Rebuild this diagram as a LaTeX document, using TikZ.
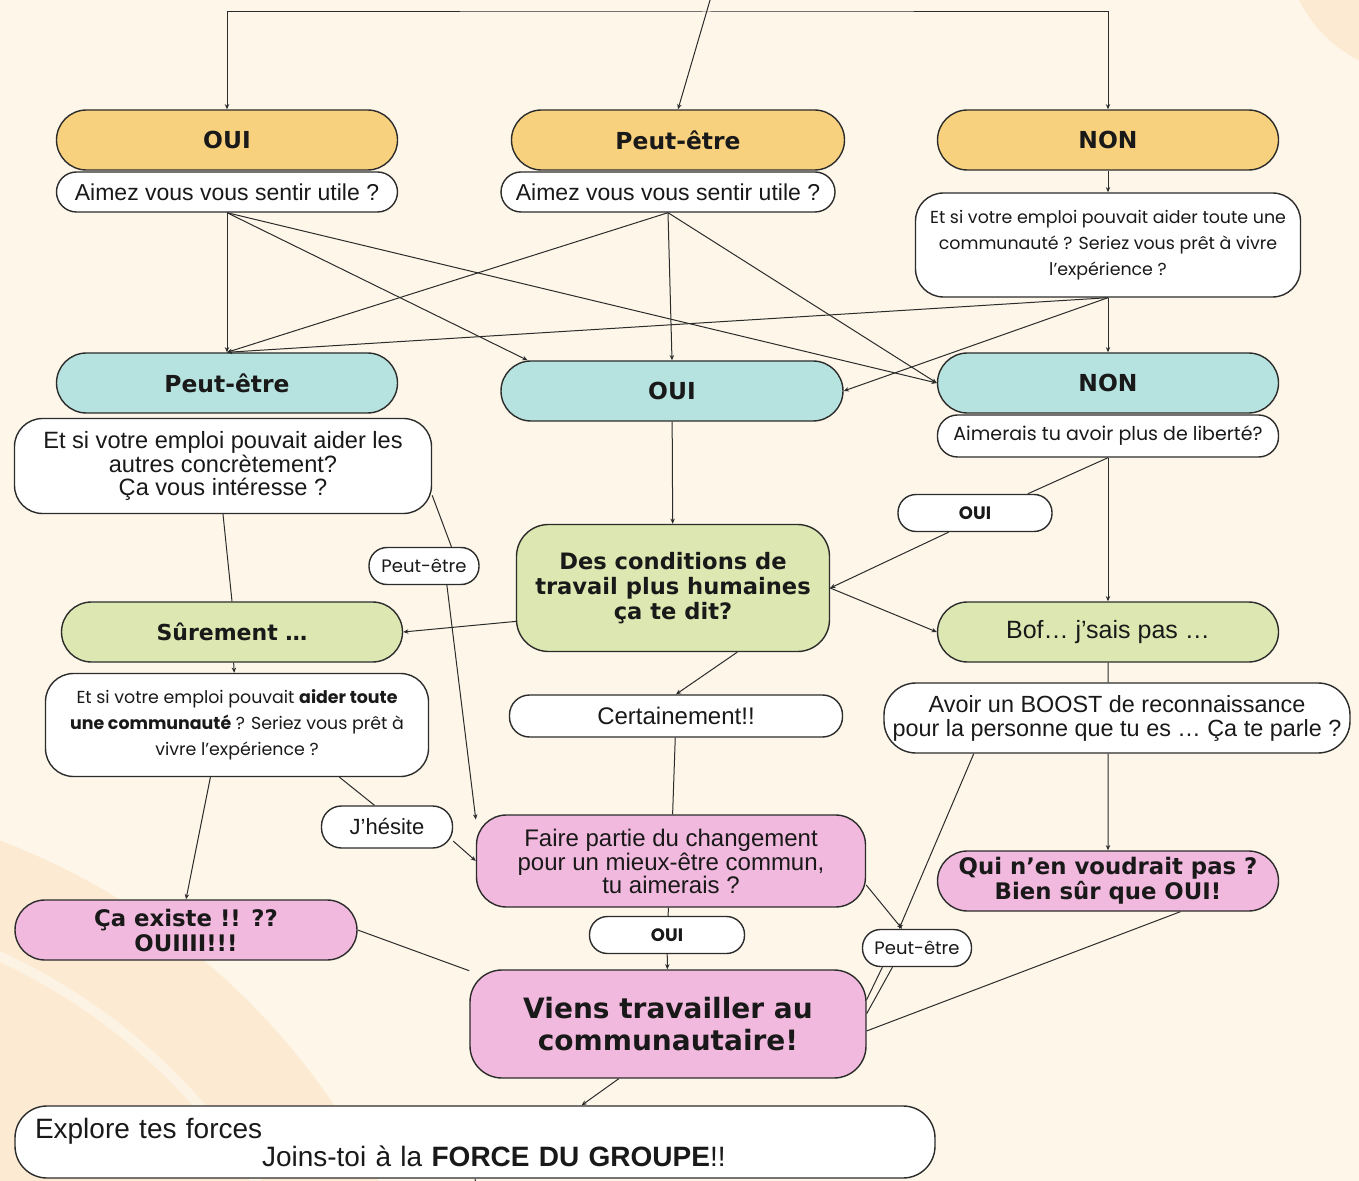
\documentclass[tikz,border=0pt]{standalone}
\usepackage{fontspec}
\setmainfont{Liberation Sans}
\newfontfamily\grasfont{DejaVu Sans}
\newfontfamily\rondfont{Poppins}
\usetikzlibrary{arrows.meta,positioning}

\definecolor{fond}{HTML}{FDF6E9}
\definecolor{peche}{HTML}{FCEBD2}
\definecolor{creme}{HTML}{FDF3E4}
\definecolor{jaune}{HTML}{F8D17F}
\definecolor{turquoise}{HTML}{B6E3DF}
\definecolor{vert}{HTML}{DDE7B1}
\definecolor{rose}{HTML}{F1B9DD}
\definecolor{trait}{HTML}{2C2C2C}

\begin{document}
\begin{tikzpicture}[x=0.5pt, y=-0.5pt, >={Stealth[length=2.6pt,width=2.2pt]},
    box/.style={draw=trait, line width=0.7pt, inner sep=0pt, align=center, text=black!90},
    pill/.style={box, minimum width=170.5pt, minimum height=30pt, rounded corners=15pt},
    head/.style={pill, font=\grasfont\bfseries\fontsize{11.7}{12.5}\selectfont},
    ask/.style={box, fill=white, rounded corners=10pt, font=\fontsize{11.5}{11.5}\selectfont},
    tag/.style={box, fill=white, rounded corners=9pt, minimum height=18.5pt},
    link/.style={draw=trait, line width=0.5pt}]

  % fond
  \fill[fond] (0,0) rectangle (1359,1181);
  \useasboundingbox (0,0) rectangle (1359,1181);
  \fill[peche] (1420,-60) circle[radius=135];
  \fill[peche] (-250,1500) circle[radius=705];
  \draw[creme, line width=5pt] (-250,1500) circle[radius=598];

  % premier niveau
  \node[head, fill=jaune] (oui1) at (227,140) {OUI};
  \node[head, fill=jaune, minimum width=166.5pt] (peut1) at (678,140) {Peut-être};
  \node[head, fill=jaune] (non1) at (1108,140) {NON};
  \node[ask, minimum width=170.5pt, minimum height=20pt] (q1) at (227,192) {Aimez vous vous sentir utile ?};
  \node[ask, minimum width=167pt, minimum height=20pt] (q2) at (668,192) {Aimez vous vous sentir utile ?};
  \node[ask, minimum width=192.5pt, minimum height=52pt, rounded corners=14pt,
        font=\rondfont\fontsize{8.7}{13}\selectfont] (q3) at (1108,245)
        {Et si votre emploi pouvait aider toute une\\communauté ? Seriez vous prêt à vivre\\l’expérience ?};

  % deuxieme niveau
  \node[head, fill=turquoise] (peut2) at (227,383) {Peut-être};
  \node[head, fill=turquoise, minimum width=171pt] (oui2) at (672,391) {OUI};
  \node[head, fill=turquoise] (non2) at (1108,383) {NON};
  \node[ask, minimum width=208.5pt, minimum height=47.5pt, rounded corners=14pt,
        font=\fontsize{11.8}{11.6}\selectfont] (q4) at (223,466)
        {Et si votre emploi pouvait aider les\\autres concrètement?\\Ça vous intéresse ?};
  \node[ask, minimum width=170.5pt, minimum height=21pt,
        font=\rondfont\fontsize{9.5}{9.5}\selectfont] (q5) at (1108,436) {Aimerais tu avoir plus de liberté?};

  % troisieme niveau
  \node[tag, minimum width=77pt, font=\rondfont\bfseries\fontsize{9}{9}\selectfont] (oui3) at (975,513) {OUI};
  \node[box, fill=vert, minimum width=156.5pt, minimum height=63.5pt, rounded corners=16pt,
        font=\grasfont\bfseries\fontsize{11.3}{12.5}\selectfont] (cond) at (673,588)
        {Des conditions de\\travail plus humaines\\ça te dit?};
  \node[tag, minimum width=55pt, font=\rondfont\fontsize{9}{9}\selectfont] (peut3) at (424,566) {Peut-être};
  \node[head, fill=vert, font=\grasfont\bfseries\fontsize{11}{12}\selectfont] (sure) at (232,632) {Sûrement …};
  \node[pill, fill=vert, font=\fontsize{12.5}{12.5}\selectfont] (bof) at (1108,632) {Bof… j’sais pas …};
  \node[ask, minimum width=191.5pt, minimum height=51.5pt, rounded corners=14pt,
        font=\rondfont\fontsize{8.7}{13}\selectfont] (q6) at (237,725)
        {Et si votre emploi pouvait \textbf{aider toute}\\\textbf{une communauté} ? Seriez vous prêt à\\vivre l’expérience ?};
  \node[ask, minimum width=166.5pt, minimum height=21pt, font=\fontsize{12}{12}\selectfont] (certain) at (676,716) {Certainement!!};
  \node[ask, minimum width=233pt, minimum height=35pt, rounded corners=16pt,
        font=\fontsize{11.7}{12}\selectfont] (boost) at (1117,718)
        {Avoir un BOOST de reconnaissance\\pour la personne que tu es … Ça te parle ?};

  % quatrieme niveau
  \node[tag, minimum width=65.5pt, minimum height=21pt, rounded corners=10pt,
        font=\fontsize{11}{11}\selectfont] (hesite) at (387,827) {J’hésite};
  \node[box, fill=rose, minimum width=194.5pt, minimum height=46pt, rounded corners=15pt,
        font=\fontsize{12}{11.2}\selectfont] (faire) at (671,861)
        {Faire partie du changement\\pour un mieux-être commun,\\tu aimerais ?};
  \node[head, fill=rose, font=\grasfont\bfseries\fontsize{11.4}{12.5}\selectfont] (qui) at (1108,881)
        {Qui n’en voudrait pas ?\\Bien sûr que OUI!};
  \node[head, fill=rose, minimum width=171pt, font=\grasfont\bfseries\fontsize{11.4}{12.5}\selectfont] (existe) at (186,930)
        {Ça existe !! ??\\OUIIII!!!};
  \node[tag, minimum width=77.5pt, font=\rondfont\bfseries\fontsize{9}{9}\selectfont] (oui4) at (667,935) {OUI};
  \node[tag, minimum width=54.5pt, font=\rondfont\fontsize{9}{9}\selectfont] (peut4) at (917,948) {Peut-être};
  \node[box, fill=rose, minimum width=198pt, minimum height=54pt, rounded corners=16pt,
        font=\grasfont\bfseries\fontsize{14}{16}\selectfont] (viens) at (668,1024)
        {Viens travailler au\\communautaire!};
  \node[box, fill=white, minimum width=460pt, minimum height=36pt, rounded corners=16pt,
        text width=440pt, align=left, font=\fontsize{14}{14}\selectfont] (explore) at (475,1142)
        {Explore tes forces\\\hspace*{113.5pt}Joins-toi à la \textbf{FORCE DU GROUPE}!!};

  \coordinate (src) at (713,-10);
  \coordinate (hub) at (707,12);
  \coordinate (bas) at (478,1195);

  \draw[link,<->] (oui1.north) |- (hub) -| (non1.north);

  \path[every edge/.style={link,->}]
    (src) edge (peut1.north)
    (non1) edge (q3)
    (q1.south) edge (peut2.north)
    (q1.south) edge (oui2.168)
    (q1.south) edge (non2.west)
    (q2.south) edge (peut2.north)
    (q2.south) edge (oui2.north)
    (q2.south) edge (non2.west)
    (q3.south) edge (peut2.north)
    (q3.south) edge (oui2.east)
    (q3.south) edge (non2.north)
    (oui2) edge (cond)
    (q5.south) edge (bof.north)
    (oui3.216) edge (cond.east)
    (cond.east) edge (bof.west)
    (cond.192) edge (sure.east)
    (cond.-45) edge (certain.north)
    (sure) edge (q6)
    (peut3.-40) edge (faire.168)
    (hesite.-12) edge (faire.west)
    (q6.243) edge (existe.north)
    (oui4) edge (viens)
    (boost.256) edge (qui.north)
    (boost.194) edge (peut4.133)
    (faire.-7) edge (peut4.128)
    (viens.228) edge (explore.19);

  \path[every edge/.style={link}]
    (q5.south) edge (oui3.20)
    (q4.south) edge (sure.north)
    (q4.-8.6) edge (peut3.35)
    (q6.-27) edge (hesite.120)
    (certain) edge (faire)
    (faire) edge (oui4)
    (bof.south) edge (boost.104)
    (peut4.209) edge (viens.7)
    (peut4.218) edge (viens.3)
    (qui.-23) edge (viens.-2)
    (existe.east) edge (viens.165)
    (explore.south) edge (bas);

\end{tikzpicture}
\end{document}
